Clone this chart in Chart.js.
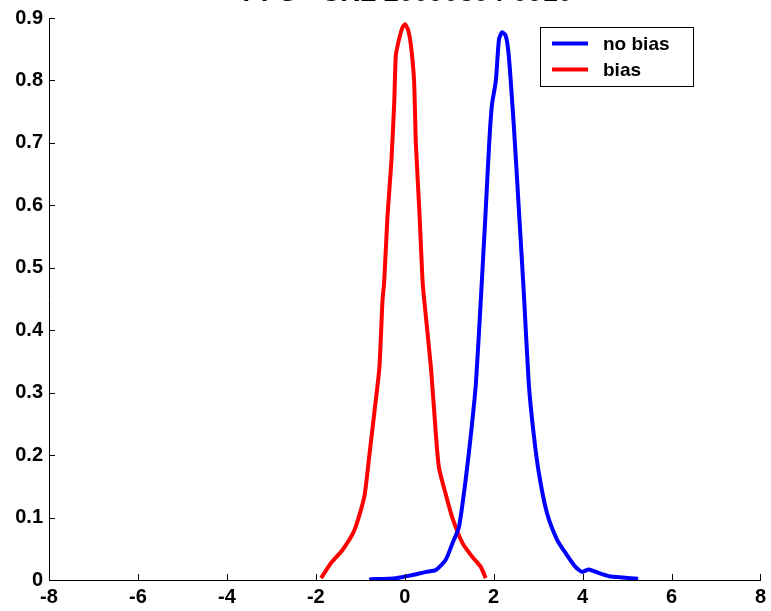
<!DOCTYPE html>
<html>
<head>
<meta charset="utf-8">
<script src="https://cdn.jsdelivr.net/npm/chart.js@4/dist/chart.umd.min.js"></script>
<style>
  html, body { margin: 0; padding: 0; background: #fff; }
  #wrap { width: 771px; height: 611px; }
</style>
</head>
<body>
<div id="wrap"><canvas id="chart_content" width="771" height="611"></canvas></div>
<script>
var titleText = "PPS - CRL 20090304-0910";

var seriesNames = ["no bias", "bias"];
var seriesColors = ["#0000ff", "#ff0000"];

var noBiasX = [-0.80, -0.20, 0.18, 0.48, 0.70, 0.92, 1.07, 1.22, 1.37, 1.49, 1.60, 1.71, 1.82, 1.90,
  1.96, 2.05, 2.12, 2.19, 2.27, 2.34, 2.46, 2.57, 2.68, 2.79, 2.90, 3.02, 3.20, 3.43, 3.62, 3.84,
  3.99, 4.14, 4.37, 4.60, 4.90, 5.25];
var noBiasY = [0.001, 0.003, 0.008, 0.013, 0.016, 0.032, 0.058, 0.085, 0.160, 0.234, 0.314, 0.447,
  0.590, 0.700, 0.760, 0.800, 0.866, 0.877, 0.872, 0.840, 0.720, 0.590, 0.458, 0.314, 0.234, 0.170,
  0.107, 0.064, 0.043, 0.021, 0.013, 0.017, 0.011, 0.006, 0.004, 0.002];

var biasX = [-1.88, -1.66, -1.40, -1.13, -0.91, -0.80, -0.68, -0.57, -0.50, -0.46, -0.39, -0.30,
  -0.235, -0.20, -0.13, -0.05, 0.01, 0.08, 0.14, 0.21, 0.25, 0.33, 0.40, 0.44, 0.59, 0.70, 0.77,
  0.92, 1.07, 1.30, 1.52, 1.71, 1.82];
var biasY = [0.003, 0.027, 0.048, 0.080, 0.133, 0.197, 0.270, 0.340, 0.447, 0.480, 0.580, 0.670,
  0.766, 0.840, 0.865, 0.885, 0.890, 0.880, 0.856, 0.800, 0.700, 0.590, 0.480, 0.447, 0.340, 0.234,
  0.180, 0.138, 0.100, 0.059, 0.037, 0.021, 0.003];

var xTicks = [-8, -6, -4, -2, 0, 2, 4, 6, 8];
var yTicks = [0, 0.1, 0.2, 0.3, 0.4, 0.5, 0.6, 0.7, 0.8, 0.9];

function toPoints(xs, ys) {
  var pts = [];
  for (var i = 0; i < xs.length; i++) pts.push({ x: xs[i], y: ys[i] });
  return pts;
}

var fontFamily = "'Liberation Sans', Arial, sans-serif";

// MATLAB style: ticks pointing into the plot, title partly cut off, boxed legend
var matlabBits = {
  id: "matlabBits",
  afterDraw: function (chart) {
    var ctx = chart.ctx;
    var xs = chart.scales.x, ys = chart.scales.y;
    var area = chart.chartArea;
    ctx.save();
    ctx.strokeStyle = "#000";
    ctx.lineWidth = 1;
    ctx.beginPath();
    xTicks.forEach(function (t) {
      var px = Math.round(xs.getPixelForValue(t)) + 0.5;
      ctx.moveTo(px, area.bottom);
      ctx.lineTo(px, area.bottom - 6);
    });
    yTicks.forEach(function (t) {
      var py = Math.round(ys.getPixelForValue(t)) + 0.5;
      ctx.moveTo(area.left, py);
      ctx.lineTo(area.left + 6, py);
    });
    ctx.stroke();

    // title (sits above the picture, only its lower edge shows)
    ctx.fillStyle = "#000";
    ctx.font = "bold 27px " + fontFamily;
    ctx.textAlign = "center";
    ctx.textBaseline = "alphabetic";
    ctx.fillText(titleText, (area.left + area.right) / 2 + 3, 1);

    // legend box
    var bx = 540.5, by = 27.5, bw = 153, bh = 59;
    ctx.fillStyle = "#fff";
    ctx.fillRect(bx, by, bw, bh);
    ctx.strokeStyle = "#000";
    ctx.strokeRect(bx, by, bw, bh);
    ctx.font = "bold 19px " + fontFamily;
    ctx.textAlign = "left";
    ctx.textBaseline = "middle";
    chart.data.datasets.forEach(function (ds, i) {
      var ly = 43.5 + i * 26;
      ctx.strokeStyle = ds.borderColor;
      ctx.lineWidth = 4;
      ctx.beginPath();
      ctx.moveTo(552, ly);
      ctx.lineTo(588, ly);
      ctx.stroke();
      ctx.fillStyle = "#000";
      ctx.fillText(ds.label, 603, ly + 1);
    });
    ctx.restore();
  }
};

var canvasElement = document.getElementById("chart_content");
var config = {
  type: "line",
  data: {
    datasets: [
      {
        label: seriesNames[0],
        data: toPoints(noBiasX, noBiasY),
        borderColor: seriesColors[0],
        borderWidth: 4,
        pointRadius: 0,
        tension: 0.2,
        fill: false
      },
      {
        label: seriesNames[1],
        data: toPoints(biasX, biasY),
        borderColor: seriesColors[1],
        borderWidth: 4,
        pointRadius: 0,
        tension: 0.2,
        fill: false
      }
    ]
  },
  options: {
    responsive: false,
    animation: false,
    layout: { padding: { top: 16, right: 9, left: 0, bottom: 0 } },
    plugins: {
      legend: { display: false },
      title: { display: false },
      tooltip: { enabled: false }
    },
    scales: {
      x: {
        type: "linear",
        min: -8,
        max: 8,
        afterBuildTicks: function (scale) {
          scale.ticks = xTicks.map(function (v) { return { value: v }; });
        },
        afterFit: function (scale) { scale.height = 31; },
        grid: { display: true, drawOnChartArea: false, drawTicks: false },
        border: { display: true, color: "#000", width: 1 },
        ticks: {
          color: "#000",
          font: { family: fontFamily, size: 20, weight: "bold" },
          padding: 5,
          maxRotation: 0,
          autoSkip: false
        }
      },
      y: {
        type: "linear",
        min: 0,
        max: 0.9,
        afterBuildTicks: function (scale) {
          scale.ticks = yTicks.map(function (v) { return { value: v }; });
        },
        afterFit: function (scale) { scale.width = 49; },
        grid: { display: true, drawOnChartArea: false, drawTicks: false },
        border: { display: true, color: "#000", width: 1 },
        ticks: {
          color: "#000",
          font: { family: fontFamily, size: 20, weight: "bold" },
          padding: 6,
          autoSkip: false,
          callback: function (v) { return v === 0 ? "0" : v.toFixed(1); }
        }
      }
    }
  },
  plugins: [matlabBits]
};

var content_chart = new Chart(canvasElement, config);
</script>
</body>
</html>
